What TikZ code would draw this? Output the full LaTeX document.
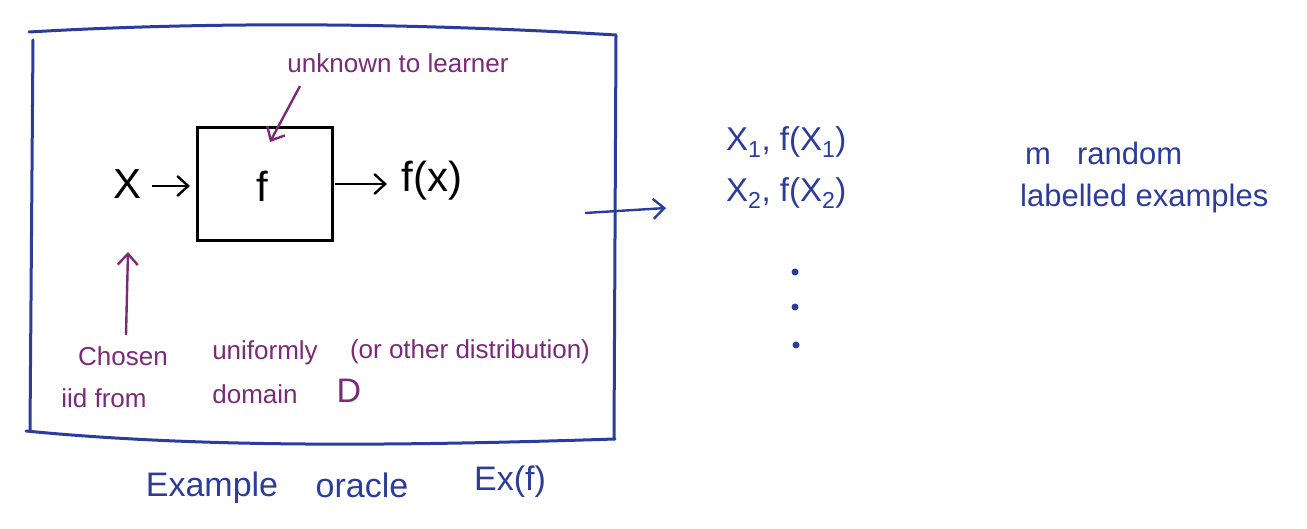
\documentclass[tikz,border=0pt]{standalone}
\usepackage{fontspec}
\setmainfont{Liberation Sans}
\usetikzlibrary{arrows.meta}
\definecolor{penblue}{HTML}{2B3C9C}
\definecolor{penpurple}{HTML}{7A2A78}
\begin{document}
\begin{tikzpicture}[x=1pt,y=-1pt,
  frame/.style={draw=penblue,line width=3pt,line cap=round,line join=round},
  blk/.style={draw=black,line width=2.4pt},
  harrow/.style={line width=2.4pt,-{Straight Barb[length=11pt,width=20pt,line width=2.4pt]}},
  bluetxt/.style={text=penblue,inner sep=0pt,anchor=center},
  purptxt/.style={text=penpurple,inner sep=0pt,anchor=center,font=\fontsize{26}{29}\selectfont},
  blacktxt/.style={text=black,inner sep=0pt,anchor=center,font=\fontsize{42}{46}\selectfont}]
\useasboundingbox (0,0) rectangle (1307,529);
% outer frame
\coordinate (tl) at (29,32);
\coordinate (tr) at (616,35);
\coordinate (br) at (615,439);
\coordinate (bl) at (26,431);
\draw[frame] (tl) .. controls (200,22) and (400,22) .. (tr);
\draw[frame] (33,40) -- (30,431);
\draw[frame] (616,36) -- (614,439);
\draw[frame] (bl) .. controls (200,448) and (400,446) .. (br);
% inner function box
\node[blk,minimum width=135pt,minimum height=113pt,inner sep=0pt] (box) at (265,184) {};
\node[blacktxt] (ftxt) at (262,186) {f};
\node[blacktxt] (xin) at (128,184) {X};
\node[blacktxt] (fx) at (432,181) {f(x)};
\coordinate (xs) at (152,186);
\coordinate (xe) at (190,186);
\draw[harrow,black] (xs) -- (xe);
\coordinate (fs) at (335,184);
\coordinate (fe) at (387,184);
\draw[harrow,black] (fs) -- (fe);
% annotations
\node[purptxt] (unk) at (398,63) {unknown to learner};
\coordinate (unkTail) at (300,86);
\coordinate (unkHead) at (270,142);
\draw[harrow,penpurple] (unkTail) -- (unkHead);
\node[purptxt] (chosen) at (123,356) {Chosen};
\node[purptxt] (unif) at (265,353) {uniformly};
\node[purptxt] (other) at (470,352) {(or other distribution)};
\node[purptxt] (iid) at (104,398) {iid from};
\node[purptxt] (domain) at (255,394) {domain};
\node[purptxt,font=\fontsize{34}{38}\selectfont] (dom) at (349,391) {D};
\coordinate (upTail) at (126,335);
\coordinate (upHead) at (128,252);
\draw[harrow,penpurple] (upTail) -- (upHead);
% title
\node[bluetxt,font=\fontsize{34}{38}\selectfont] (ex) at (212,488) {Example};
\node[bluetxt,font=\fontsize{34}{38}\selectfont] (orc) at (362,485) {oracle};
\node[bluetxt,font=\fontsize{34}{38}\selectfont] (exf) at (510,482) {Ex(f)};
% output side
\coordinate (outTail) at (585,213);
\coordinate (outHead) at (666,208);
\draw[harrow,penblue] (outTail) -- (outHead);
\node[bluetxt,font=\fontsize{33}{36}\selectfont,anchor=west] (ex1) at (726,142) {X\textsubscript{1}, f(X\textsubscript{1})};
\node[bluetxt,font=\fontsize{33}{36}\selectfont,anchor=west] (ex2) at (726,193) {X\textsubscript{2}, f(X\textsubscript{2})};
\fill[penblue] (795,272) circle (3.5pt) coordinate (d1);
\fill[penblue] (795,307) circle (3.5pt) coordinate (d2);
\fill[penblue] (796,345) circle (3.5pt) coordinate (d3);
\node[bluetxt,font=\fontsize{31}{34}\selectfont,anchor=west] (mr) at (1025,153) {m\hspace{26pt}random};
\node[bluetxt,font=\fontsize{31}{34}\selectfont,anchor=west] (le) at (1020,198) {labelled examples};
\end{tikzpicture}
\end{document}
